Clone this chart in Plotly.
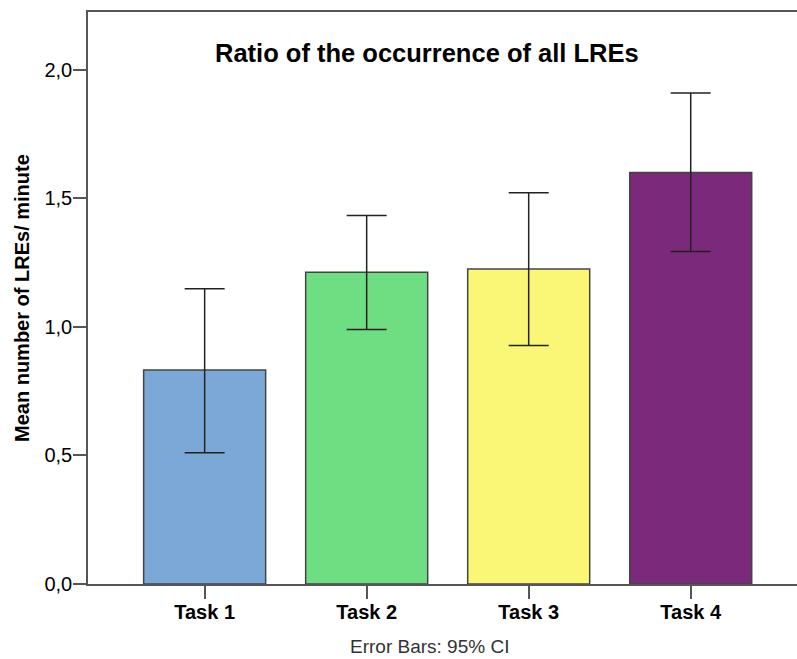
import plotly.graph_objects as go

categories = ["Task 1", "Task 2", "Task 3", "Task 4"]
means = [0.832, 1.213, 1.225, 1.601]
ci_upper = [1.148, 1.433, 1.522, 1.910]
ci_lower = [0.511, 0.990, 0.928, 1.293]
colors = ["#7BA8D6", "#6FDE83", "#FAF776", "#7B2A7B"]
y_ticks = [0.0, 0.5, 1.0, 1.5, 2.0]

x_pos = list(range(len(categories)))
err_plus = [u - m for u, m in zip(ci_upper, means)]
err_minus = [m - l for m, l in zip(means, ci_lower)]

FONT = "Liberation Sans, Arial, sans-serif"

fig = go.Figure()
fig.add_trace(go.Bar(
    x=x_pos, y=means, width=0.753,
    marker=dict(color=colors, line=dict(color="#444444", width=1.5)),
    error_y=dict(type="data", symmetric=False, array=err_plus, arrayminus=err_minus,
                 color="#222222", thickness=1.5, width=20),
    hoverinfo="skip",
))

fig.update_layout(
    width=797, height=659,
    margin=dict(l=88, r=0, t=12, b=75),
    paper_bgcolor="white", plot_bgcolor="white",
    separators=",.",
    showlegend=False,
    font=dict(family=FONT, color="black"),
    xaxis=dict(
        range=[-0.720, 3.656], tickmode="array", tickvals=x_pos, ticktext=categories,
        showgrid=False, zeroline=False, showline=True, linecolor="#555555", linewidth=1.5,
        mirror=True, ticks="outside", ticklen=13, tickwidth=1.5, tickcolor="#555555",
        ticklabelstandoff=-4,
        tickfont=dict(size=20, family=FONT, weight="bold", color="black"),
    ),
    yaxis=dict(
        range=[0, 2.225], tickmode="array", tickvals=y_ticks, tickformat=".1f",
        showgrid=False, zeroline=False, showline=True, linecolor="#555555", linewidth=1.5,
        ticks="outside", ticklen=13, tickwidth=1.5, tickcolor="#555555",
        ticklabelstandoff=-3,
        tickfont=dict(size=20, family=FONT, color="black"),
    ),
    annotations=[
        dict(text="Ratio of the occurrence of all LREs", xref="paper", yref="paper",
             x=(427 - 88) / 709, y=0.928, xanchor="center", yanchor="middle", showarrow=False,
             font=dict(size=25.5, family=FONT, weight="bold", color="black")),
        dict(text="Mean number of LREs/ minute", xref="paper", yref="paper",
             x=-0.0931, y=(584 - 298) / 572, xanchor="center", yanchor="middle",
             textangle=-90, showarrow=False,
             font=dict(size=20, family=FONT, weight="bold", color="black")),
        dict(text="Error Bars: 95% CI", xref="paper", yref="paper",
             x=(429 - 88) / 709, y=(584 - 646) / 572, xanchor="center", yanchor="middle",
             showarrow=False, font=dict(size=19, family=FONT, color="#333333")),
    ],
)

fig.write_html("out.html")
